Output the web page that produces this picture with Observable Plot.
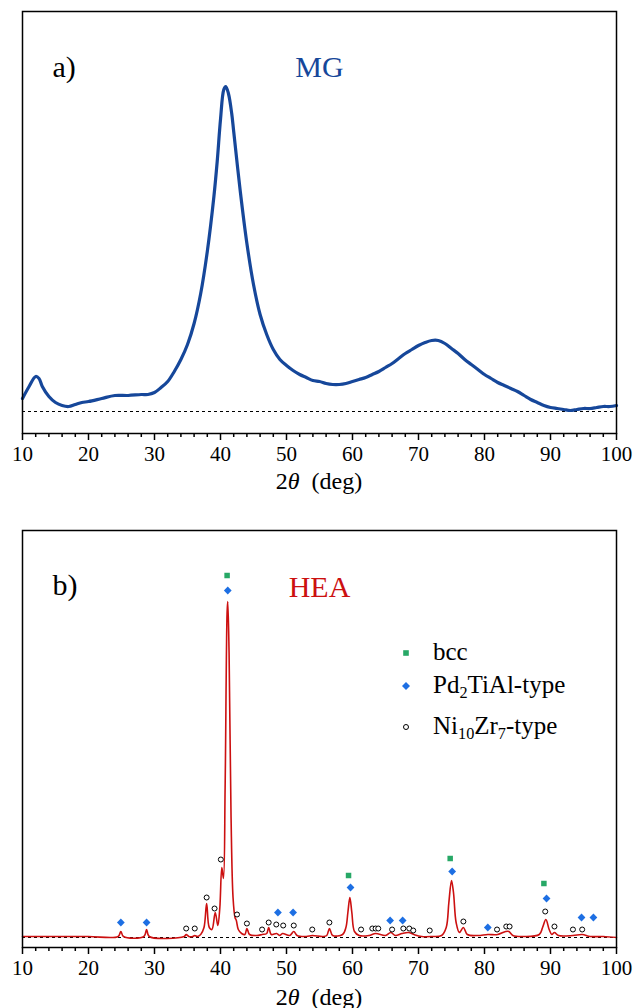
<!DOCTYPE html>
<html>
<head>
<meta charset="utf-8">
<script src="https://cdn.jsdelivr.net/npm/d3@7"></script>
<script src="https://cdn.jsdelivr.net/npm/@observablehq/plot@0.6"></script>
<style>
  html, body { margin: 0; padding: 0; background: white; }
  #page { position: relative; width: 634px; height: 1008px; font-family: "Liberation Serif", "Times New Roman", serif; color: black; }
  .panel { position: absolute; left: 0; }
  .xtitle { position: absolute; left: 22px; width: 594px; text-align: center; font-family: "Liberation Serif", serif; font-size: 24px; line-height: 30px; }
  .leg { position: absolute; font-family: "Liberation Serif", serif; font-size: 25px; line-height: 30px; white-space: nowrap; }
  .leg sub { font-size: 0.65em; vertical-align: -0.3em; line-height: 0; }
  .sym { position: absolute; }
</style>
</head>
<body>
<div id="page"></div>
<script>
// ---------- data ----------
const majorTicks = [10, 20, 30, 40, 50, 60, 70, 80, 90, 100];
const minorTicks = [12, 14, 16, 18, 22, 24, 26, 28, 32, 34, 36, 38, 42, 44, 46, 48, 52, 54, 56, 58, 62, 64, 66, 68, 72, 74, 76, 78, 82, 84, 86, 88, 92, 94, 96, 98];

// MG (metallic glass) pattern, intensity in arbitrary units above baseline
const mgX = [10, 11, 12, 12.5, 13, 14, 15, 16, 17, 18, 19, 20, 22, 24, 26, 28, 29, 30, 31, 32, 33, 34, 35, 36, 37, 38, 39, 39.5, 40, 40.5, 40.8, 41.2, 41.7, 42, 43, 44, 45, 46, 47, 48, 49, 50, 51, 52, 53, 54, 55, 56, 57, 58, 59, 60, 61, 62, 63, 64, 65, 66, 67, 68, 69, 70, 71, 72, 73, 74, 75, 76, 77, 78, 79, 80, 81, 82, 83, 84, 85, 86, 87, 88, 89, 90, 91, 92, 93, 94, 95, 96, 97, 98, 99, 100];
const mgY = [13, 25, 35, 33, 25, 15, 9, 6, 5, 7, 9, 10, 13, 16, 16, 17, 17, 19, 24, 30, 40, 52, 67, 88, 118, 160, 215, 250, 292, 322, 325, 318, 298, 280, 220, 168, 127, 97, 77, 62, 52, 46, 41, 37, 34, 31, 30, 28, 27, 27, 28, 30, 32, 34, 37, 40, 44, 48, 53, 58, 62, 66, 69, 71, 71, 68, 63, 58, 52, 47, 42, 37, 33, 29, 26, 23, 20, 16, 12, 9, 6, 4, 3, 2, 1, 2, 3, 3, 4, 5, 5, 6];

// HEA pattern
const heaX = [10, 15, 20, 24.5, 24.9, 25.3, 28.4, 28.8, 29.2, 34.5, 34.8, 35.2, 35.8, 36.1, 36.5, 37.0, 37.5, 37.9, 38.3, 38.7, 39.2, 39.6, 39.9, 40.2, 40.45, 40.7, 41.0, 41.1, 41.3, 41.6, 41.9, 42.2, 42.4, 42.7, 43.2, 43.7, 44.0, 44.4, 45.5, 46.3, 47.0, 47.3, 47.7, 48.5, 49.0, 49.4, 50.5, 51.1, 51.6, 53.0, 53.9, 55.5, 56.1, 56.5, 57.0, 58.5, 59.0, 59.3, 59.6, 59.9, 60.3, 61.0, 62.5, 63.5, 65.0, 65.8, 66.5, 67.5, 68.5, 69.3, 70.5, 72.0, 73.5, 74.2, 74.6, 75.0, 75.3, 75.7, 76.2, 76.8, 77.4, 79.0, 80.5, 82.0, 83.2, 83.7, 84.3, 86.0, 88.3, 88.8, 89.3, 89.8, 90.2, 90.6, 91.2, 93.4, 94.8, 96.0, 98.0, 100];
const heaY = [1, 1, 1, 1, 6, 1, 1, 8, 1, 1, 3, 1, 1, 2, 1, 3, 10, 34, 10, 8, 25, 12, 30, 70, 59, 150, 325, 336, 285, 120, 40, 20, 17, 8, 4, 3, 9, 3, 2, 3, 4, 10, 3, 4, 2, 4, 2, 6, 2, 1, 2, 1, 2, 9, 2, 3, 10, 25, 40, 25, 6, 2, 2, 4, 2, 5, 2, 4, 5, 3, 1, 1, 2, 10, 35, 57, 45, 15, 5, 10, 3, 2, 3, 3, 6, 6, 2, 1, 3, 10, 18, 8, 3, 5, 2, 2, 3, 1, 1, 0];

// phase markers
const bccX = [41.0, 59.4, 74.8, 89.0];
const bccY = [362, 62, 79, 54];
const pdX = [24.9, 28.8, 41.1, 48.7, 51.0, 59.7, 65.7, 67.6, 75.1, 80.5, 89.4, 94.7, 96.5];
const pdY = [15, 15, 347, 25, 25, 50, 17, 17, 66, 10, 39, 20, 20];
const niX = [34.8, 36.1, 37.9, 39.1, 40.05, 42.5, 44.0, 46.3, 47.3, 48.45, 49.5, 51.1, 53.9, 56.5, 61.3, 63.0, 63.5, 63.9, 66.0, 67.7, 68.6, 69.2, 71.7, 76.8, 81.9, 83.3, 83.8, 89.2, 90.6, 93.4, 94.8];
const niY = [9, 9, 40, 29, 78, 23, 14, 8, 15, 13, 12, 12, 8, 15, 8, 9, 9, 9, 8, 9, 9, 7, 7, 16, 8, 11, 11, 26, 11, 8, 8];

// ---------- styles ----------
const mgColor = "#16479a";
const heaColor = "#cc1010";
const bccColor = "#27a866";
const pdColor = "#1d6fe3";
const font = "Liberation Serif, Times New Roman, serif";

const toPts = (xs, ys) => xs.map((x, i) => ({x, y: ys[i]}));
const mg = toPts(mgX, mgY);
const hea = toPts(heaX, heaY);
const bcc = toPts(bccX, bccY);
const pd = toPts(pdX, pdY);
const ni = toPts(niX, niY);

const axisMarks = () => [
  Plot.axisX({ticks: minorTicks, tickSize: 4, tickFormat: () => "", strokeWidth: 1.5, label: null}),
  Plot.axisX({ticks: majorTicks, tickSize: 7, tickPadding: 6, fontSize: 21, fontFamily: font, fill: "black", strokeWidth: 1.5, label: null, tickFormat: d => String(d)}),
  Plot.frame({stroke: "black", strokeWidth: 1.5})
];

const page = document.getElementById("page");

// ---------- panel a ----------
const a = Plot.plot({
  width: 634, height: 480,
  marginTop: 11, marginBottom: 47, marginLeft: 22, marginRight: 18,
  x: {domain: [10, 100]},
  y: {domain: [-22, 400], axis: null},
  style: {fontFamily: font, fontSize: "21px", color: "black"},
  marks: [
    Plot.ruleY([0], {stroke: "black", strokeDasharray: "3,3", strokeWidth: 1.2}),
    Plot.line(mg, {x: "x", y: "y", stroke: mgColor, strokeWidth: 3.2, curve: "catmull-rom"}),
    ...axisMarks(),
    Plot.text(["a)"], {text: d => d, frameAnchor: "top-left", dx: 30, dy: 44, fontSize: 30, fontFamily: font, textAnchor: "start", fill: "black"}),
    Plot.text(["MG"], {text: d => d, frameAnchor: "top", dy: 44, fontSize: 30, fontFamily: font, fill: mgColor})
  ]
});
a.classList.add("panel");
a.style.top = "0px";
page.appendChild(a);

const ta = document.createElement("div");
ta.className = "xtitle";
ta.style.top = "466px";
ta.innerHTML = "2<i>θ</i>&nbsp; (deg)";
page.appendChild(ta);

// ---------- panel b ----------
const b = Plot.plot({
  width: 634, height: 490,
  marginTop: 25, marginBottom: 48, marginLeft: 22, marginRight: 18,
  x: {domain: [10, 100]},
  y: {domain: [-10, 407], axis: null},
  style: {fontFamily: font, fontSize: "21px", color: "black"},
  marks: [
    Plot.ruleY([0], {stroke: "black", strokeDasharray: "3,3", strokeWidth: 1.2}),
    Plot.line(hea, {x: "x", y: "y", stroke: heaColor, strokeWidth: 1.6, curve: "catmull-rom"}),
    Plot.dot(ni, {x: "x", y: "y", r: 2.5, stroke: "black", fill: "white", strokeWidth: 1}),
    Plot.dot(pd, {x: "x", y: "y", symbol: "diamond2", r: 3.5, fill: pdColor, stroke: "none"}),
    Plot.dot(bcc, {x: "x", y: "y", symbol: "square", r: 3.1, fill: bccColor, stroke: "none"}),
    ...axisMarks(),
    Plot.text(["b)"], {text: d => d, frameAnchor: "top-left", dx: 30, dy: 43, fontSize: 30, fontFamily: font, textAnchor: "start", fill: "black"}),
    Plot.text(["HEA"], {text: d => d, frameAnchor: "top", dy: 45, fontSize: 30, fontFamily: font, fill: heaColor})
  ]
});
b.classList.add("panel");
b.style.top = "505px";
page.appendChild(b);

const tb = document.createElement("div");
tb.className = "xtitle";
tb.style.top = "982px";
tb.innerHTML = "2<i>θ</i>&nbsp; (deg)";
page.appendChild(tb);

// ---------- legend ----------
const legendRows = [
  {label: "bcc", cy: 653, sym: `<rect x="3.2" y="3.2" width="5.6" height="5.6" fill="${bccColor}"/>`},
  {label: "Pd<sub>2</sub>TiAl-type", cy: 686, sym: `<path d="M6,2 L10,6 L6,10 L2,6 Z" fill="${pdColor}"/>`},
  {label: "Ni<sub>10</sub>Zr<sub>7</sub>-type", cy: 727, sym: `<circle cx="6" cy="6" r="2.5" fill="white" stroke="black" stroke-width="1"/>`}
];
for (const row of legendRows) {
  const s = document.createElementNS("http://www.w3.org/2000/svg", "svg");
  s.setAttribute("width", 12); s.setAttribute("height", 12);
  s.setAttribute("class", "sym");
  s.style.left = (406 - 6) + "px";
  s.style.top = (row.cy - 6) + "px";
  s.innerHTML = row.sym;
  page.appendChild(s);
  const t = document.createElement("div");
  t.className = "leg";
  t.style.left = "433px";
  t.style.top = (row.cy - 16) + "px";
  t.innerHTML = row.label;
  page.appendChild(t);
}
</script>
</body>
</html>
